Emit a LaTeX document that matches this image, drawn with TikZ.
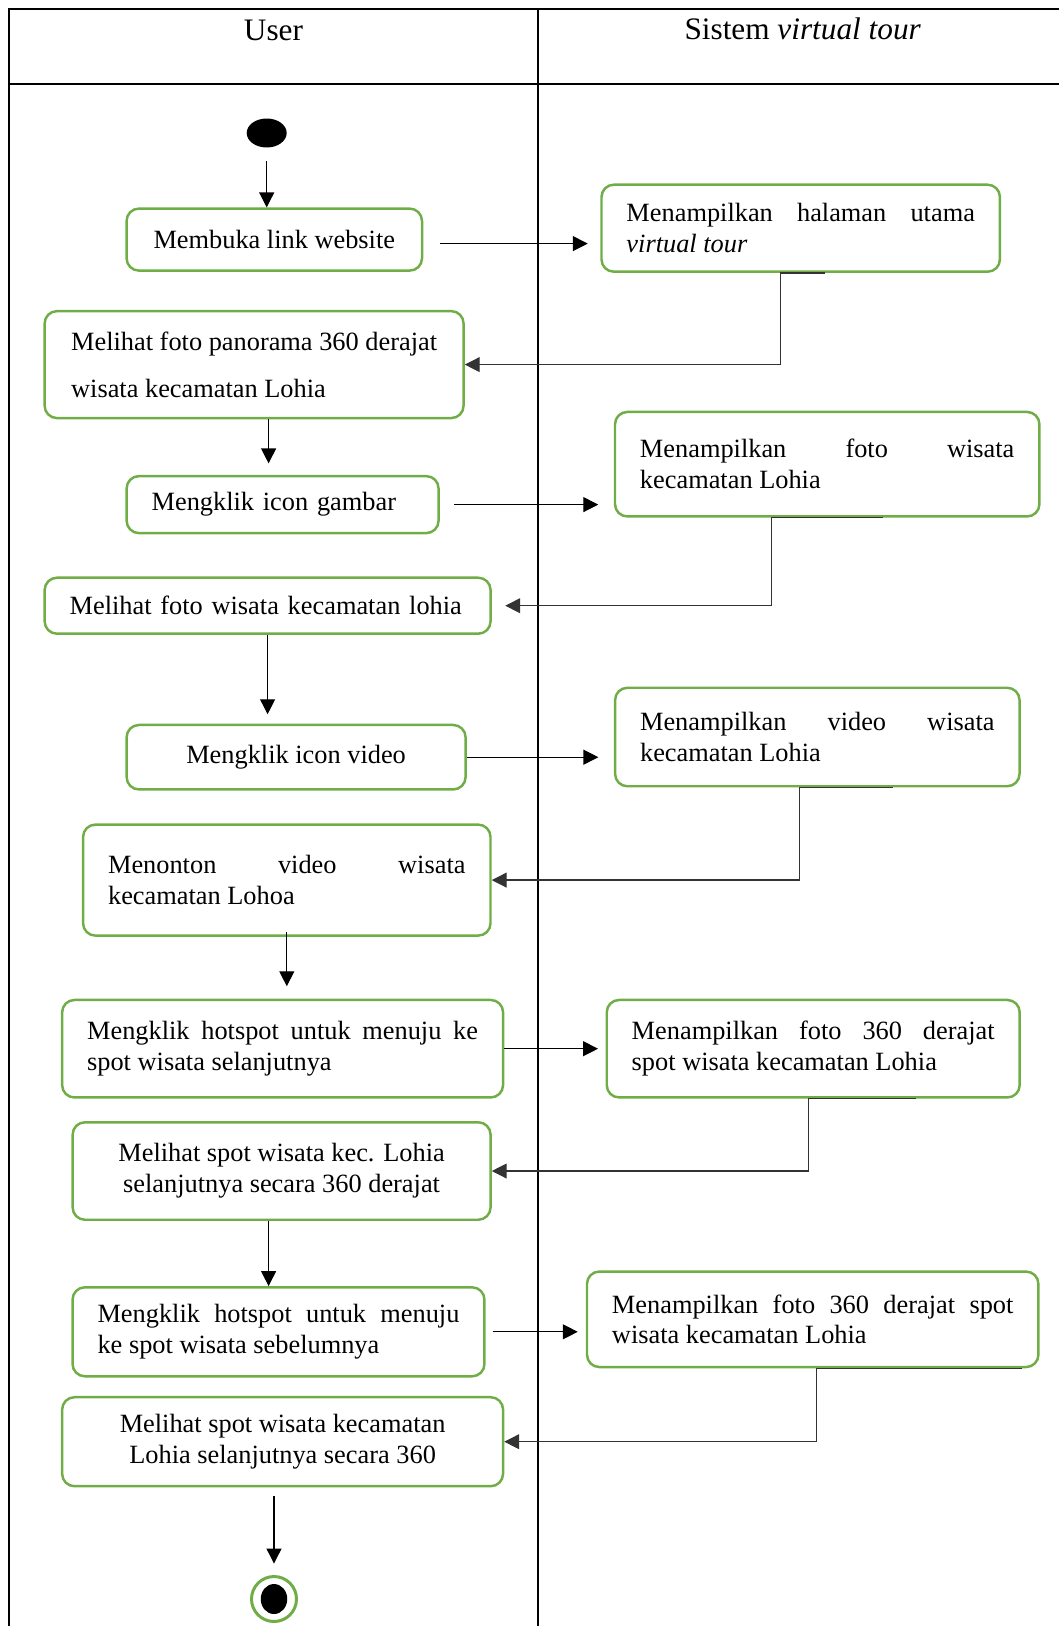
\documentclass[tikz,border=0pt]{standalone}
\usepackage{fontspec}
\setmainfont{Liberation Serif}
\usetikzlibrary{arrows.meta,positioning,calc,shapes.geometric}
\definecolor{actgreen}{HTML}{70AD47}
\hyphenpenalty=10000
\exhyphenpenalty=10000

\begin{document}
\begin{tikzpicture}[
    x=0.02cm, y=-0.02cm,
    actbox/.style={draw=actgreen, line width=1.4pt, rounded corners=7pt, inner xsep=0.5cm, inner ysep=0pt, font=\fontsize{15}{17.6}\selectfont},
    arrow/.style={-{Triangle[length=8.5pt,width=8.5pt]}, line width=0.7pt},
    link/.style={arrow, draw=black!80},
    frame/.style={line width=1.2pt},
    lane/.style={font=\fontsize{17.8}{20}\selectfont, anchor=base}
]
\useasboundingbox (0,0) rectangle (1059,1626);

% swimlanes
\draw[frame] (9.3,1626) |- (1059,9.3);
\draw[frame] (9.3,84.3) -- (1059,84.3);
\draw[frame] (538.3,9.3) -- (538.3,1626);
\node[lane] (user) at (273.5,40) {User};
\node[lane] (sys) at (802.7,39.5) {Sistem \textit{virtual tour}};

% start and end
\node[ellipse, fill=black, minimum width=0.8cm, minimum height=0.58cm, inner sep=0pt] (start) at (266.7,133) {};
\node[circle, draw=actgreen, line width=1.7pt, minimum size=0.9cm, inner sep=0pt] (end) at (274,1599) {};
\node[ellipse, fill=black, minimum width=0.53cm, minimum height=0.6cm, inner sep=0pt] (endcore) at (end) {};

% activities
\node[actbox, align=center, minimum width=5.91cm, minimum height=1.24cm] (b1) at (274.3,239.6) {Membuka link website};
\node[actbox, align=justify, text width=6.97cm, minimum height=1.74cm] (b2) at (800.7,228.2) {Menampilkan halaman utama\linebreak \textit{virtual tour}};
\node[actbox, align=left, minimum width=8.38cm, minimum height=2.14cm] (b3) at (254.1,364.6) {Melihat foto panorama 360 derajat\\[9pt]wisata kecamatan Lohia};
\node[actbox, align=left, text width=5.24cm, minimum height=1.14cm] (b4) at (282.6,504.6) {Mengklik icon gambar};
\node[actbox, align=justify, text width=7.49cm, minimum height=2.09cm] (b5) at (827.2,464.2) {Menampilkan foto wisata\linebreak kecamatan Lohia};
\node[actbox, align=left, text width=7.92cm, minimum height=1.12cm] (b6) at (267.6,605.7) {Melihat foto wisata kecamatan lohia};
\node[actbox, align=center, minimum width=6.78cm, minimum height=1.29cm] (b7) at (296.1,757.2) {Mengklik icon video};
\node[actbox, align=justify, text width=7.09cm, minimum height=1.97cm] (b8) at (817.3,737) {Menampilkan video wisata\linebreak kecamatan Lohia};
\node[actbox, align=justify, text width=7.15cm, minimum height=2.22cm] (b9) at (286.8,880.1) {Menonton video wisata\linebreak kecamatan Lohoa};
\node[actbox, align=justify, text width=7.82cm, minimum height=1.95cm] (b10) at (282.6,1048.7) {Mengklik hotspot untuk menuju ke\linebreak spot wisata selanjutnya};
\node[actbox, align=justify, text width=7.26cm, minimum height=1.95cm] (b11) at (813.2,1048.7) {Menampilkan foto 360 derajat\linebreak spot wisata kecamatan Lohia};
\node[actbox, align=center, minimum width=8.36cm, minimum height=1.95cm] (b12) at (281.6,1171) {Melihat spot wisata kec. Lohia\\selanjutnya secara 360 derajat};
\node[actbox, align=justify, text width=7.24cm, minimum height=1.78cm] (b13) at (278.5,1331.8) {Mengklik hotspot untuk menuju\linebreak ke spot wisata sebelumnya};
\node[actbox, align=justify, text width=8.03cm, minimum height=1.91cm] (b14) at (812.7,1319.3) {Menampilkan foto 360 derajat spot\linebreak wisata kecamatan Lohia};
\node[actbox, align=center, minimum width=8.82cm, minimum height=1.78cm] (b15) at (282.6,1441.7) {Melihat spot wisata kecamatan\\Lohia selanjutnya secara 360};

% flow
\draw[arrow, shorten <=0.27cm] (start.south) -- (start.south |- b1.north);
\draw[arrow, shorten <=0.33cm, shorten >=0.25cm] ([yshift=-0.08cm]b1.east) -- ([yshift=-0.08cm]b1.east -| b2.west);
\draw[link] ([xshift=0.48cm]b2.south) -- ([xshift=-0.41cm]b2.south) |- (b3.east);
\draw[arrow, shorten >=0.23cm] ([xshift=0.29cm]b3.south) -- ([xshift=0.29cm]b3.south |- b4.north);
\draw[arrow, shorten <=0.29cm, shorten >=0.31cm] (b4.east) -- (b4.east -| b5.west);
\draw[link, shorten >=0.27cm] ([xshift=1.11cm]b5.south) -- ([xshift=-1.11cm]b5.south) |- (b6.east);
\draw[arrow, shorten >=0.19cm] (b6.south) -- (b6.south |- b7.north);
\draw[arrow, shorten >=0.31cm] (b7.east) -- (b7.east -| b8.west);
\draw[link] ([xshift=1.51cm]b8.south) -- ([xshift=-0.35cm]b8.south) |- (b9.east);
\draw[arrow, shorten <=-0.1cm, shorten >=0.25cm] (b9.south) -- (b9.south |- b10.north);
\draw[arrow, shorten >=0.15cm] (b10.east) -- (b10.east -| b11.west);
\draw[link] ([xshift=2.05cm]b11.south) -- ([xshift=-0.1cm]b11.south) |- (b12.east);
\draw[arrow] ([xshift=-0.26cm]b12.south) -- ([xshift=-0.26cm]b12.south |- b13.north);
\draw[arrow, shorten <=0.14cm, shorten >=0.16cm] (b13.east) -- (b13.east -| b14.west);
\draw[link] ([xshift=4.18cm]b14.south) -- ([xshift=0.07cm]b14.south) |- (b15.east);
\draw[arrow, shorten <=0.17cm, shorten >=0.23cm] (end.north |- b15.south) -- (end.north);
\end{tikzpicture}
\end{document}
